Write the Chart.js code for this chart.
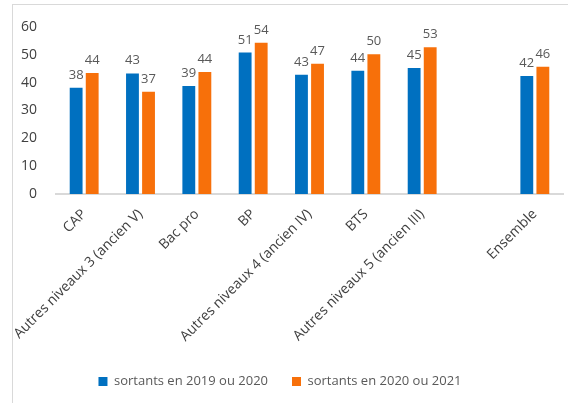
<!DOCTYPE html>
<html>
<head>
<meta charset="utf-8">
<script src="https://cdn.jsdelivr.net/npm/chart.js@4/dist/chart.umd.min.js"></script>
<style>
  html, body { margin: 0; padding: 0; background: #fff; }
  #wrap { position: relative; width: 568px; height: 403px; overflow: hidden; }
  #frame { position: absolute; left: 12px; top: 4px; width: 560px; height: 410px;
           border-left: 1px solid #d9d9d9; border-top: 1px solid #d9d9d9; }
  #myChart { position: absolute; left: 0; top: 0; }
</style>
</head>
<body>
<div id="wrap">
  <div id="frame"></div>
  <canvas id="myChart" width="568" height="403"></canvas>
</div>
<script>
const labels = ['CAP', 'Autres niveaux 3 (ancien V)', 'Bac pro', 'BP', 'Autres niveaux 4 (ancien IV)',
                'BTS', 'Autres niveaux 5 (ancien III)', '', 'Ensemble'];
const sortants2019 = [38.2, 43.3, 38.8, 50.8, 42.8, 44.3, 45.3, null, 42.4];
const sortants2020 = [43.5, 36.7, 43.8, 54.3, 46.8, 50.2, 52.7, null, 45.7];
const yTicks = [0, 10, 20, 30, 40, 50, 60];

const FONT = '"Open Sans", "Noto Sans", sans-serif';

// valeurs au-dessus des barres
const barLabels = {
    id: 'barLabels',
    afterLayout(chart) {
        // légende un peu décalée vers la gauche comme dans l'original
        chart.legend.left -= 7;
        chart.legend.right -= 7;
    },
    afterDatasetsDraw(chart) {
        const c = chart.ctx;
        c.save();
        c.font = '13px ' + FONT;
        c.fillStyle = '#595959';
        c.textAlign = 'center';
        c.textBaseline = 'alphabetic';
        chart.data.datasets.forEach((ds, i) => {
            chart.getDatasetMeta(i).data.forEach((bar, j) => {
                const v = ds.data[j];
                if (v === null) return;
                c.fillText(Math.round(v), bar.x, bar.y - 9);
            });
        });
        c.restore();
    }
};

const ctx = document.getElementById('myChart');
new Chart(ctx, {
    type: 'bar',
    data: {
        labels: labels,
        datasets: [
            {
                label: 'sortants en 2019 ou 2020',
                backgroundColor: '#0070C0',
                data: sortants2019,
                categoryPercentage: 0.57,
                barPercentage: 0.8
            },
            {
                label: 'sortants en 2020 ou 2021',
                backgroundColor: '#F7700A',
                data: sortants2020,
                categoryPercentage: 0.57,
                barPercentage: 0.8
            }
        ]
    },
    options: {
        responsive: false,
        animation: false,
        layout: { padding: { left: 11, right: 5, top: 27, bottom: 5 } },
        plugins: {
            legend: {
                position: 'bottom',
                labels: {
                    boxWidth: 9,
                    boxHeight: 9,
                    padding: 24,
                    color: '#595959',
                    font: { family: FONT, size: 13 }
                }
            },
            tooltip: { enabled: false }
        },
        scales: {
            x: {
                grid: { display: false },
                border: { display: true, color: '#d9d9d9', width: 2 },
                afterFit: (s) => { s.paddingLeft = 0; s.height = 157; },
                ticks: {
                    minRotation: 45,
                    maxRotation: 45,
                    autoSkip: false,
                    color: '#404040',
                    font: { family: FONT, size: 14 },
                    padding: 4
                }
            },
            y: {
                min: 0,
                max: 60,
                afterBuildTicks: (axis) => { axis.ticks = yTicks.map(v => ({ value: v })); },
                afterFit: (s) => { s.width = 45; },
                grid: { display: false },
                border: { display: false },
                ticks: {
                    color: '#404040',
                    font: { family: FONT, size: 14 },
                    padding: 11
                }
            }
        }
    },
    plugins: [barLabels]
});
</script>
</body>
</html>
